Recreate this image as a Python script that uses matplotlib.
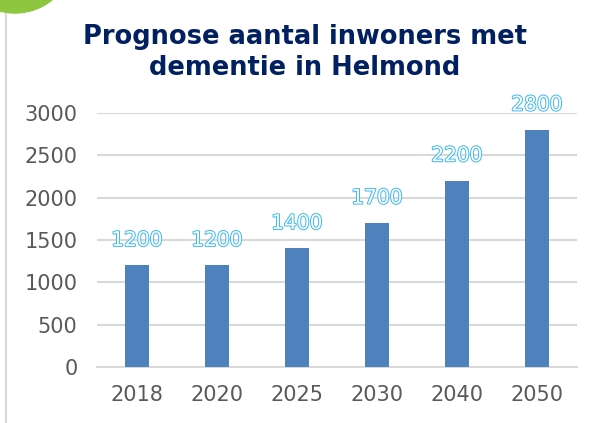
import matplotlib
matplotlib.use("Agg")
import matplotlib.pyplot as plt
import matplotlib.patheffects as pe
from matplotlib.patches import Ellipse
from matplotlib.lines import Line2D

years = ["2018", "2020", "2025", "2030", "2040", "2050"]
inwoners = [1200, 1200, 1400, 1700, 2200, 2800]
yticks = [0, 500, 1000, 1500, 2000, 2500, 3000]

BAR = "#4f81bd"
NAVY = "#002060"
GRID = "#d9d9d9"
TICK = "#595959"
LABEL = "#3cb8f0"

W, H = 596, 423
fig = plt.figure(figsize=(W / 100, H / 100), dpi=100)
ax = fig.add_axes([97 / W, 1 - 367 / H, 480 / W, 254 / H])

x = range(len(years))
ax.bar(x, inwoners, width=0.31, color=BAR, zorder=3)
for xi, v in zip(x, inwoners):
    ax.annotate(str(v), (xi, v), xytext=(0, 18), textcoords="offset points",
                ha="center", va="center", fontsize=14.5, color="white",
                path_effects=[pe.withStroke(linewidth=1.4, foreground=LABEL)],
                annotation_clip=False, zorder=4)

ax.set_xlim(-0.5, len(years) - 0.5)
ax.set_ylim(0, 3000)
ax.set_yticks(yticks)
ax.set_xticks(list(x))
ax.set_xticklabels(years)
ax.tick_params(length=0, labelsize=15, colors=TICK)
ax.tick_params(axis="y", pad=14)
ax.tick_params(axis="x", pad=13)
ax.grid(axis="y", color=GRID, lw=1.5, zorder=0)
for s in ("top", "right", "left"):
    ax.spines[s].set_visible(False)
ax.spines["bottom"].set_color(GRID)
ax.spines["bottom"].set_linewidth(1.5)

fig.text(305 / W, 1 - 44 / H, "Prognose aantal inwoners met", ha="center", va="baseline",
         fontsize=18.5, fontweight="bold", color=NAVY)
fig.text(305 / W, 1 - 75 / H, "dementie in Helmond", ha="center", va="baseline",
         fontsize=18.5, fontweight="bold", color=NAVY)

# decoration: green corner circle and the left border line
fig.add_artist(Line2D([6 / W, 6 / W], [0, 1 - 13 / H], transform=fig.transFigure,
                      color=GRID, lw=1.5))
fig.add_artist(Ellipse((15 / W, 1 + 46 / H), 118 / W, 118 / H, transform=fig.transFigure,
                       color="#8dc63f", zorder=5))

fig.savefig("out.png", dpi=100)
